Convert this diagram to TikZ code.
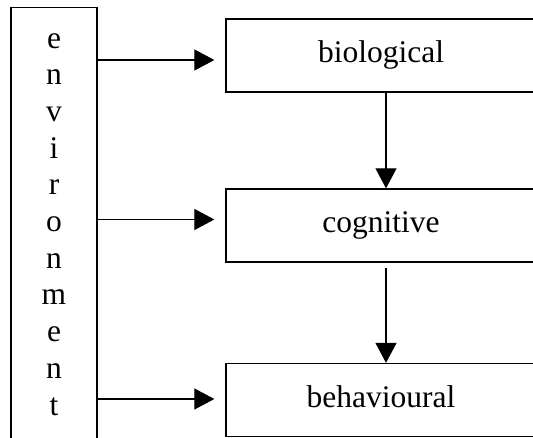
\documentclass[tikz,border=0pt]{standalone}
\usepackage{fontspec}
\setmainfont{Liberation Serif}
\usetikzlibrary{arrows.meta,calc}
\begin{document}
\begin{tikzpicture}[x=1pt,y=-1pt,
  boxline/.style={draw,line width=1.3pt},
  stagebox/.style={boxline,minimum width=310pt,minimum height=73pt,inner sep=0pt,
     font=\fontsize{31.5}{36.7}\selectfont,text height=21pt,text depth=7pt},
  arr/.style={line width=1.1pt,-{Triangle[length=20pt,width=21pt]}}]
\clip (0,0) rectangle (533,438);
\node[boxline,minimum width=86pt,minimum height=470pt,inner sep=0pt,anchor=north] (env) at (54,7) {};
\node[anchor=base,align=center,font=\fontsize{31.5}{36.7}\selectfont,inner sep=0pt] (letters) at (54,415)
  {e\\n\\v\\i\\r\\o\\n\\m\\e\\n\\t};
\node[stagebox] (bio) at (381,55.5) {biological};
\node[stagebox] (cog) at (381,225.5) {cognitive};
\node[stagebox] (beh) at (381,400) {behavioural};
\draw[arr] ($(env.east |- bio.west)+(0,4.5)$) -- ($(bio.west)+(-11,4.5)$);
\draw[arr] ($(env.east |- cog.west)+(0,-6)$) -- ($(cog.west)+(-11,-6)$);
\draw[arr] ($(env.east |- beh.west)+(0,-1)$) -- ($(beh.west)+(-11,-1)$);
\draw[arr] ($(bio.south)+(5,0)$) -- ($(cog.north)+(5,0)$);
\draw[arr] ($(cog.south)+(5,5)$) -- ($(beh.north)+(5,0)$);
\end{tikzpicture}
\end{document}
